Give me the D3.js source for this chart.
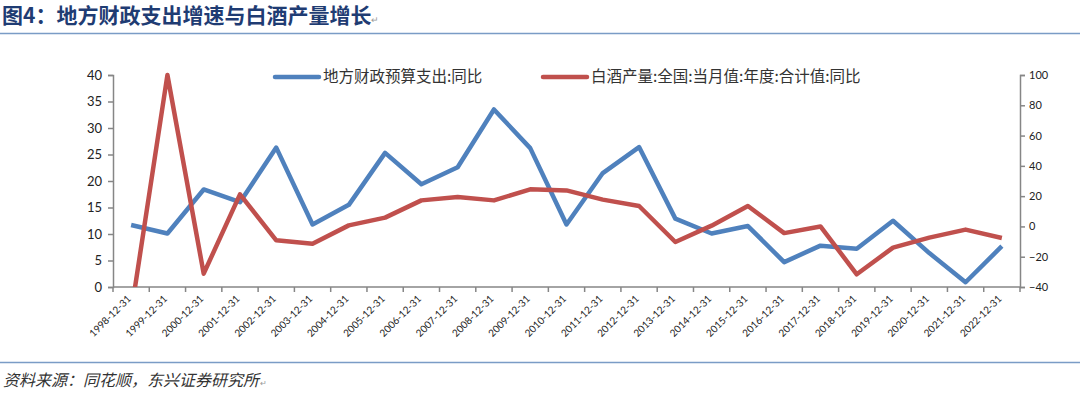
<!DOCTYPE html>
<html>
<head>
<meta charset="utf-8">
<script src="https://cdn.jsdelivr.net/npm/d3@7"></script>
<style>
body { margin:0; background:#fff; }
svg { display:block; }
</style>
</head>
<body>
<svg id="chart" width="1080" height="395"></svg>
<script>

// categories (year ends)
var years = ["1998-12-31","1999-12-31","2000-12-31","2001-12-31","2002-12-31","2003-12-31","2004-12-31",
	"2005-12-31","2006-12-31","2007-12-31","2008-12-31","2009-12-31","2010-12-31","2011-12-31","2012-12-31",
	"2013-12-31","2014-12-31","2015-12-31","2016-12-31","2017-12-31","2018-12-31","2019-12-31","2020-12-31",
	"2021-12-31","2022-12-31"];

// 地方财政预算支出:同比 (left axis)
var fiscal = [11.7,10.1,18.4,16.0,26.3,11.8,15.5,25.3,19.4,22.6,33.5,26.2,11.8,21.5,26.4,12.9,10.1,11.5,4.7,7.8,7.2,12.5,6.4,0.9,7.7];

// 白酒产量:全国:当月值:年度:合计值:同比 (right axis)
var baijiu = [-57,100,-31.2,21.2,-9.2,-11.4,0.7,5.8,17.2,19.4,17.2,24.5,23.8,17.7,13.5,-10.3,0.5,13.5,-4.4,0,-31.6,-14,-7.4,-2.1,-7.6];

var leftTicks = [0,5,10,15,20,25,30,35,40];
var rightTicks = [-40,-20,0,20,40,60,80,100];

var legendNames = ["地方财政预算支出:同比","白酒产量:全国:当月值:年度:合计值:同比"];
var colors = ["#4f81bd","#c0504d"];

var svg = d3.select("#chart");
var margin = {left:113, right:1020, top:75, bottom:287};

var x = d3.scaleBand().domain(years).range([margin.left, margin.right]);
var yL = d3.scaleLinear().domain([0,40]).range([margin.bottom, margin.top]);
var yR = d3.scaleLinear().domain([-40,100]).range([margin.bottom, margin.top]);

// title + rules
svg.append("text")
	.attr("x",2).attr("y",23)
	.attr("font-family","'Noto Sans CJK SC'")
	.attr("font-weight","bold")
	.attr("font-size",21)
	.attr("fill","#1f3c73")
	.text("图4：地方财政支出增速与白酒产量增长");
svg.append("text")
	.attr("x",371).attr("y",23)
	.attr("font-family","'Noto Sans CJK SC'")
	.attr("font-size",9)
	.attr("fill","#999")
	.text("↵");
svg.append("line").attr("x1",0).attr("x2",1080).attr("y1",33.5).attr("y2",33.5)
	.attr("stroke","#7a9cc6").attr("stroke-width",1.5);
svg.append("line").attr("x1",0).attr("x2",1080).attr("y1",362.5).attr("y2",362.5)
	.attr("stroke","#7a9cc6").attr("stroke-width",1.5);

svg.append("text")
	.attr("x",3).attr("y",386)
	.attr("font-family","'Noto Sans CJK SC'")
	.attr("font-style","italic")
	.attr("font-size",16)
	.attr("fill","#333")
	.text("资料来源：同花顺，东兴证券研究所");
svg.append("text")
	.attr("x",260).attr("y",386)
	.attr("font-family","'Noto Sans CJK SC'")
	.attr("font-size",8)
	.attr("fill","#999")
	.text("↵");

// axes
var axisLeft = d3.axisLeft(yL).tickValues(leftTicks).tickSize(5).tickPadding(6);
var axisRight = d3.axisRight(yR).tickValues(rightTicks).tickSize(5).tickPadding(4);

var gL = svg.append("g").attr("transform","translate("+margin.left+",0)").call(axisLeft);
var gR = svg.append("g").attr("transform","translate("+margin.right+",0)").call(axisRight);

[gL,gR].forEach(function(g){
	g.select(".domain").attr("stroke","#868686").attr("stroke-width",1.5);
	g.selectAll(".tick line").attr("stroke","#868686").attr("stroke-width",1.5);
	g.selectAll(".tick text").attr("font-family","Lato").attr("font-size",13).attr("fill","#222");
});
gR.selectAll(".tick text").attr("font-size",11);

// x axis
var gX = svg.append("g");
gX.append("line")
	.attr("x1",margin.left).attr("x2",margin.right)
	.attr("y1",margin.bottom).attr("y2",margin.bottom)
	.attr("stroke","#868686").attr("stroke-width",1.5);
gX.selectAll(".xt").data(years.concat(["end"])).enter().append("line")
	.attr("x1",function(d,i){ return i<years.length ? x(d) : margin.right; })
	.attr("x2",function(d,i){ return i<years.length ? x(d) : margin.right; })
	.attr("y1",margin.bottom).attr("y2",margin.bottom+5)
	.attr("stroke","#868686").attr("stroke-width",1.5);
gX.selectAll(".xl").data(years).enter().append("text")
	.attr("transform",function(d){ return "translate("+(x(d)+x.bandwidth()/2-2)+","+(margin.bottom+10)+") rotate(-45)"; })
	.attr("text-anchor","end")
	.attr("dy","0.35em")
	.attr("font-family","Lato")
	.attr("font-size",10)
	.attr("fill","#222")
	.text(function(d){ return d; });

// clip
svg.append("clipPath").attr("id","plotclip").append("rect")
	.attr("x",margin.left).attr("y",margin.top-6)
	.attr("width",margin.right-margin.left).attr("height",margin.bottom-margin.top+6);

var cx = function(d,i){ return x(years[i])+x.bandwidth()/2; };

var lineL = d3.line().x(cx).y(function(d){ return yL(d); });
var lineR = d3.line().x(cx).y(function(d){ return yR(d); });

var plot = svg.append("g").attr("clip-path","url(#plotclip)");
plot.append("path").datum(fiscal).attr("d",lineL)
	.attr("fill","none").attr("stroke",colors[0]).attr("stroke-width",4.5).attr("stroke-linejoin","round");
plot.append("path").datum(baijiu).attr("d",lineR)
	.attr("fill","none").attr("stroke",colors[1]).attr("stroke-width",4.5).attr("stroke-linejoin","round");

// legend
var legendX = [275, 543];
legendNames.forEach(function(name,i){
	var g = svg.append("g").attr("transform","translate("+legendX[i]+",77)");
	g.append("line").attr("x1",0).attr("x2",44).attr("y1",0).attr("y2",0)
		.attr("stroke",colors[i]).attr("stroke-width",4.5).attr("stroke-linecap","round");
	g.append("text").attr("x",48).attr("y",0).attr("dy","0.35em")
		.attr("font-family","'Noto Sans CJK SC'")
		.attr("font-size",15.5)
		.attr("fill","#333")
		.text(name);
});

</script>
</body>
</html>
